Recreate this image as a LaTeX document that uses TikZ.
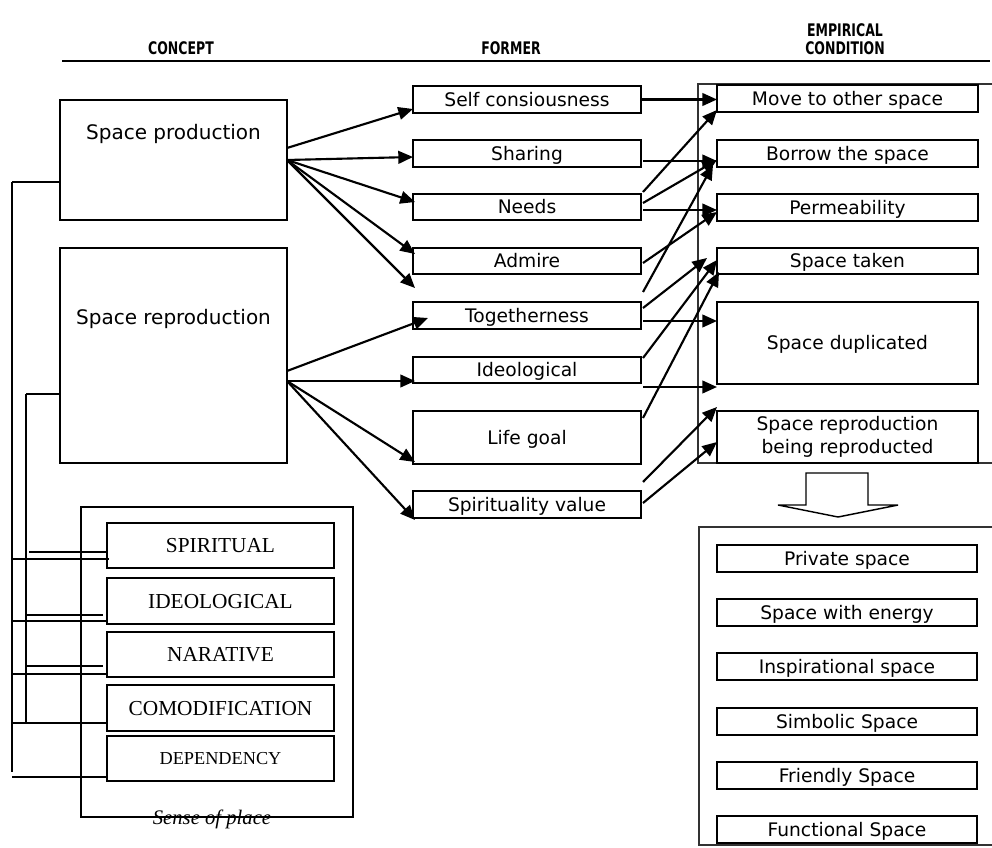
\documentclass[tikz,border=0pt]{standalone}
\usepackage{fontspec}
\setmainfont{DejaVu Sans}
\newfontfamily\hdfont[FakeStretch=0.72]{DejaVu Sans}
\newfontfamily\sefont{Liberation Serif}
\usetikzlibrary{calc,arrows.meta}
\tikzset{
  bx/.style 2 args={draw, line width=1.6pt, inner sep=0pt, outer sep=0pt,
    minimum width=#1*0.75pt, minimum height=#2*0.75pt, align=center,
    text height=10.2pt, text depth=0pt,
    font=\fontsize{14}{17.25}\selectfont},
  bxm/.style 2 args={draw, line width=1.6pt, inner sep=0pt, outer sep=0pt,
    minimum width=#1*0.75pt, minimum height=#2*0.75pt, align=center,
    font=\fontsize{14}{17.25}\selectfont},
  sbx/.style 2 args={draw, line width=1.1pt, inner sep=0pt, outer sep=0pt,
    minimum width=#1*0.75pt, minimum height=#2*0.75pt,
    text height=10.6pt, text depth=0pt,
    font=\sefont\fontsize{16}{18}\selectfont},
  arr/.style={line width=1.6pt, -{Triangle[length=11pt,width=9.5pt]}},
  ln/.style={line width=1.5pt},
  hd/.style={font=\hdfont\bfseries\fontsize{13}{13.5}\selectfont, align=center},
  txt/.style={font=\fontsize{15}{18}\selectfont}
}
\begin{document}
\begin{tikzpicture}[x=0.75pt, y=-0.75pt]
\useasboundingbox (0,0) rectangle (992,848);

% headers
\node[hd] (h1) at (181,48) {CONCEPT};
\node[hd] (h2) at (511,48) {FORMER};
\node[hd] (h3) at (845,39) {EMPIRICAL\\CONDITION};
\coordinate (hl1) at (62,61);
\coordinate (hl2) at (990,61);
\draw[line width=1.8pt] (hl1) -- (hl2);

% left concept boxes
\node[bx={227}{120}] (sp) at (173.5,160) {};
\node[txt] (spt) at (173.5,134) {Space production};
\node[bx={227}{215}] (srp) at (173.5,355.5) {};
\node[txt] (srpt) at (173.5,319) {Space reproduction};

% sense of place
\node[draw, line width=1.6pt, minimum width=272*0.75pt, minimum height=310*0.75pt, inner sep=0pt, outer sep=0pt] (sop) at (217,662) {};
\node[font=\sefont\itshape\fontsize{15.5}{18}\selectfont] (sopt) at (212,819) {Sense of place};
\node[sbx={227}{45}] (spir) at (220.5,545.5) {SPIRITUAL};
\node[sbx={227}{46}] (ideo) at (220.5,601) {IDEOLOGICAL};
\node[sbx={227}{45}] (nar) at (220.5,654.5) {NARATIVE};
\node[sbx={227}{46}] (com) at (220.5,708) {COMODIFICATION};
\node[sbx={227}{45}, text height=9.1pt, font=\sefont\fontsize{13.7}{16}\selectfont] (dep) at (220.5,758.5) {DEPENDENCY};

% bracket lines
\coordinate (ta) at (12,182);
\coordinate (ba) at (12,772);
\coordinate (tb) at (26,394);
\coordinate (bb) at (26,722);
\draw[ln] (ta) -- (ba);
\draw[ln] (ta) -- (ta -| sp.west);
\draw[ln] (tb) -- (bb);
\draw[ln] (tb) -- (tb -| srp.west);
\coordinate (b1) at (29,552);
\coordinate (b2) at (12,559);
\coordinate (b3) at (25,615);
\coordinate (b4) at (12,621);
\coordinate (b5) at (25,666);
\coordinate (b6) at (12,674);
\coordinate (b7) at (12,723);
\coordinate (b8) at (12,777);
\draw[ln] (b1) -- ($(spir.west)+(0,6.5)$);
\draw[ln] (b2) -- ($(spir.west)+(2,13.5)$);
\draw[ln] (b3) -- ($(ideo.west)+(-4,14)$);
\draw[ln] (b4) -- ($(ideo.west)+(0,20)$);
\draw[ln] (b5) -- ($(nar.west)+(-4,11.5)$);
\draw[ln] (b6) -- ($(nar.west)+(1,19.5)$);
\draw[ln] (b7) -- ($(com.west)+(0,15)$);
\draw[ln] (b8) -- ($(dep.west)+(0,18.5)$);

% middle column
\node[bx={228}{27}] (sc) at (527,99.5) {Self consiousness};
\node[bx={228}{27}] (sh) at (527,153.5) {Sharing};
\node[bx={228}{26}] (nd) at (527,207) {Needs};
\node[bx={228}{26}] (ad) at (527,261) {Admire};
\node[bx={228}{27}] (tg) at (527,315.5) {Togetherness};
\node[bx={228}{26}] (id) at (527,370) {Ideological};
\node[bx={228}{53}] (lg) at (527,437.5) {Life goal};
\node[bx={228}{27}] (sv) at (527,504.5) {Spirituality value};

% right container
\coordinate (rc1) at (992,84);
\coordinate (rc2) at (698,84);
\coordinate (rc3) at (698,463);
\coordinate (rc4) at (992,463);
\draw[line width=1.1pt, black!80] (rc1) -- (rc2) -- (rc3) -- (rc4);

\node[bx={261}{27}] (mv) at (847.5,98.5) {Move to other space};
\node[bx={261}{27}] (bw) at (847.5,153.5) {Borrow the space};
\node[bx={261}{27}] (pm) at (847.5,207.5) {Permeability};
\node[bx={261}{26}] (st) at (847.5,261) {Space taken};
\node[bx={261}{82}] (sd) at (847.5,343) {Space duplicated};
\node[bxm={261}{52}] (sr) at (847.5,437) {Space reproduction\\being reproducted};

% hollow arrow
\draw[line width=1.1pt] (806,473) -- (868,473) -- (868,505) -- (898,505) -- (838,517) -- (778,505) -- (806,505) -- cycle;

% bottom right container
\coordinate (bc1) at (992,527);
\coordinate (bc2) at (699,527);
\coordinate (bc3) at (699,845);
\coordinate (bc4) at (992,845);
\draw[line width=1.1pt, black!80] (bc1) -- (bc2) -- (bc3) -- (bc4);
\node[bx={260}{27}] (p1) at (847,558.5) {Private space};
\node[bx={260}{27}] (p2) at (847,612.5) {Space with energy};
\node[bx={260}{27}] (p3) at (847,666.5) {Inspirational space};
\node[bx={260}{27}] (p4) at (847,721.5) {Simbolic Space};
\node[bx={260}{27}] (p5) at (847,775.5) {Friendly Space};
\node[bx={260}{27}] (p6) at (847,829.5) {Functional Space};

% arrows concept -> former
\draw[arr] ($(sp.north east)+(0,48)$) -- ($(sc.south west)+(0,-4)$);
\draw[arr] ($(sp.north east)+(0,60)$) -- ($(sh.west)+(0,3.5)$);
\draw[arr] ($(sp.north east)+(0,60)$) -- ($(nd.south west)+(2,-18)$);
\draw[arr] ($(sp.north east)+(0,60)$) -- ($(ad.west)+(2,-7)$);
\draw[arr] ($(sp.north east)+(0,60)$) -- ($(ad.south west)+(2,14)$);
\draw[arr] ($(srp.north east)+(0,123)$) -- ($(tg.west)+(15,2.5)$);
\draw[arr] ($(srp.north east)+(0,133)$) -- ($(id.west)+(2,11)$);
\draw[arr] ($(srp.north east)+(0,133)$) -- ($(lg.south west)+(2,-2)$);
\draw[arr] ($(srp.north east)+(0,133)$) -- ($(sv.south west)+(2,2)$);

% arrows former -> empirical
\draw[arr] (sc.east) -- (sc.east -| mv.west);
\draw[arr] ($(sh.east)+(2,7.5)$) -- ($(bw.west)+(0,7.5)$);
\draw[arr] ($(nd.north east)+(2,-2)$) -- ($(mv.south west)+(0,-2)$);
\draw[arr] ($(nd.north east)+(2,9)$) -- ($(bw.west)+(0,6.5)$);
\draw[arr] ($(nd.east)+(2,3)$) -- ($(pm.west)+(0,2.5)$);
\draw[arr] ($(ad.east)+(2,2)$) -- ($(pm.west)+(0,4.5)$);
\draw[arr] ($(tg.north east)+(2,-10)$) -- ($(bw.south west)+(-4,-2)$);
\draw[arr] ($(tg.north east)+(2,6)$) -- ($(st.west)+(-10,-3)$);
\draw[arr] ($(tg.east)+(2,5.5)$) -- ($(sd.north west)+(0,19)$);
\draw[arr] ($(id.north east)+(2,1)$) -- ($(st.west)+(0,-1)$);
\draw[arr] ($(id.south east)+(2,4)$) -- ($(sd.south west)+(0,3)$);
\draw[arr] ($(lg.north east)+(2,7)$) -- ($(st.south west)+(2,-2)$);
\draw[arr] ($(sv.north east)+(2,-9)$) -- ($(sr.north west)+(0,-4)$);
\draw[arr] ($(sv.east)+(2,-1.5)$) -- ($(sr.west)+(0,5)$);
\end{tikzpicture}
\end{document}
